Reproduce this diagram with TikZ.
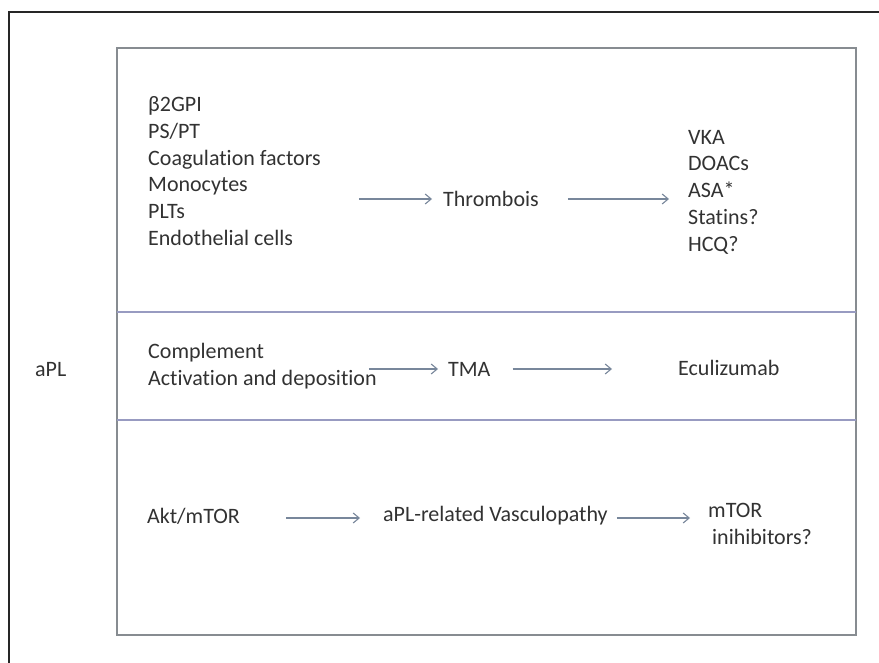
\documentclass[tikz,border=0pt]{standalone}
\usepackage{fontspec}
\setmainfont{Carlito}[Ligatures=NoCommon]
\usepackage{tikz}
\usetikzlibrary{arrows.meta,positioning}
\definecolor{txt}{RGB}{50,50,50}
\definecolor{arrowc}{RGB}{120,135,155}
\definecolor{boxc}{RGB}{135,140,145}

\begin{document}
\begin{tikzpicture}[x=1pt,y=-1pt,
      lbl/.style={anchor=west,inner sep=0pt,align=left,text=txt,font=\fontsize{22}{26.7}\selectfont},
      arr/.style={draw=arrowc,line width=1.1pt,-{Straight Barb[length=6pt,width=10pt]}}]
    \useasboundingbox (0,0) rectangle (879,663);
    \draw[line width=1.6pt,black!85] (879,12) -- (9,12) -- (9,663);
    \draw[line width=1.6pt,boxc] (117,48) rectangle (856,635);
    \draw[line width=1.3pt,boxc!80!blue!70] (117,312) -- (856,312) (117,420) -- (856,420);
    \node[lbl] (apl) at (35,370) {aPL};
    % thrombosis
    \node[lbl] (targets) at (148,171) {β2GPI\\PS/PT\\Coagulation factors\\Monocytes\\PLTs\\Endothelial cells};
    \node[lbl] (thromb) at (443,199) {Thrombois};
    \node[lbl] (anticoag) at (688,192) {VKA\\DOACs\\ASA*\\Statins?\\HCQ?};
    \draw[arr,shorten <=38pt,shorten >=11pt] (targets.east |- thromb.west) -- (thromb.west);
    \draw[arr,shorten <=29pt,shorten >=19pt] (thromb.east) -- (anticoag.west |- thromb.east);
    % complement
    \node[lbl] (compl) at (148,366) {Complement\\Activation and deposition};
    \node[lbl] (tma) at (448,369) {TMA};
    \node[lbl] (ecu) at (678,368) {Eculizumab};
    \draw[arr,shorten <=-8pt,shorten >=10pt] (compl.east |- tma.west) -- (tma.west);
    \draw[arr,shorten <=22pt,shorten >=66pt] (tma.east) -- (ecu.west |- tma.east);
    % mTOR
    \node[lbl] (akt) at (147,516) {Akt/mTOR};
    \node[lbl] (vasc) at (383,516) {aPL-related Vasculopathy};
    \node[lbl] (mtor) at (708,524) {mTOR\\\hspace*{4pt}inihibitors?};
    \draw[arr,shorten <=46pt,shorten >=23pt] ([yshift=-2pt]akt.east) -- ([yshift=-2pt]vasc.west);
    \draw[arr,shorten <=9pt,shorten >=18pt] ([yshift=-2pt]vasc.east) -- ([yshift=-2pt]mtor.west |- vasc.east);
\end{tikzpicture}
\end{document}
